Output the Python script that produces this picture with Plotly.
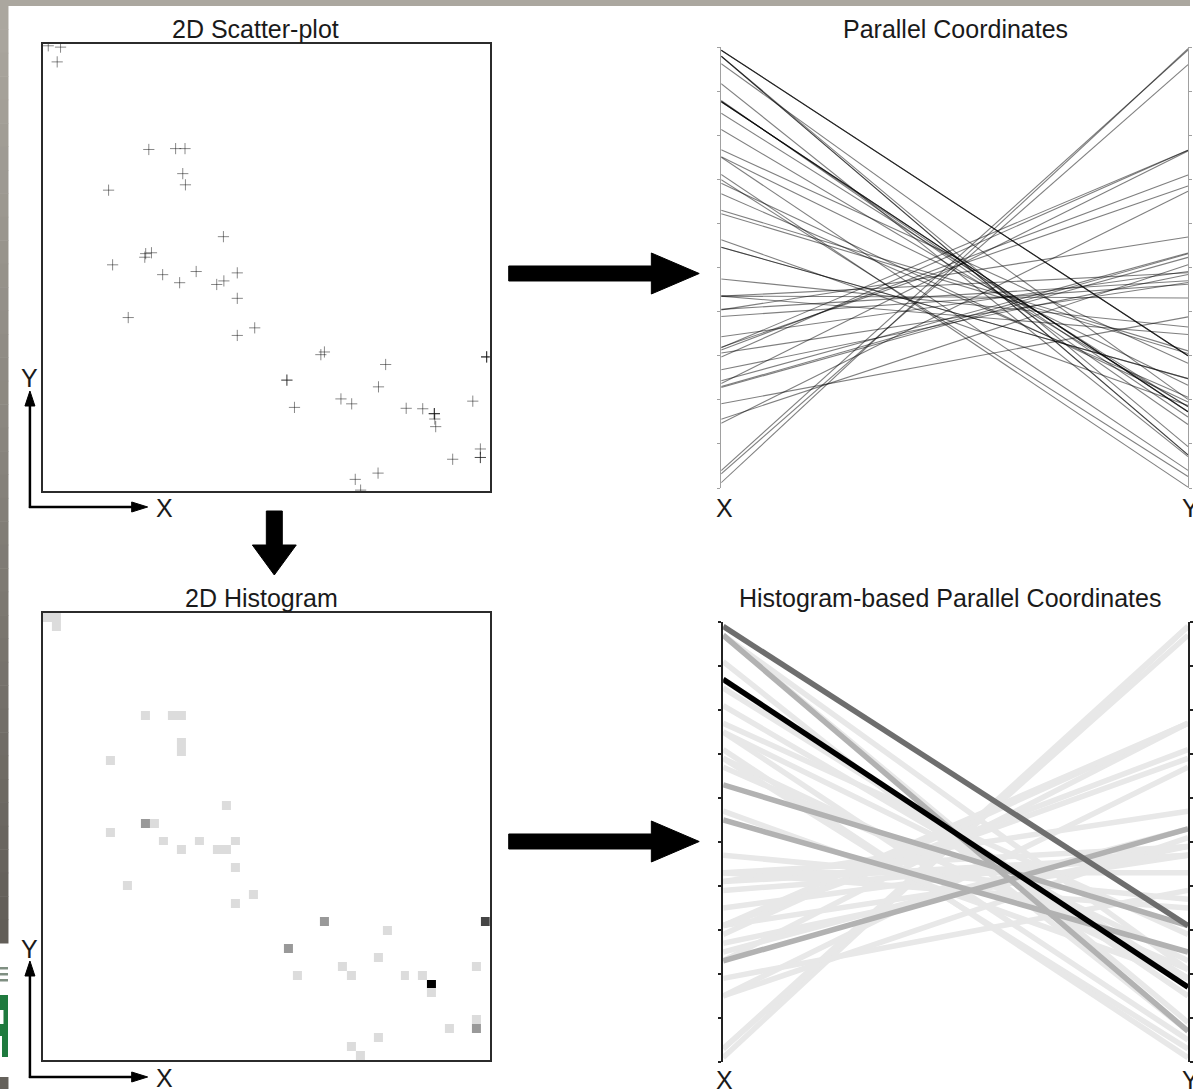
import numpy as np
import plotly.graph_objects as go

W, H = 1193, 1089

# ---------------- data (0-100 units) -------------
# overlapping points are listed once per occurrence
x_vals = [3.95, 3.2, 1.2, 23.7, 29.7, 31.8, 31.3, 31.9, 14.7, 40.4,
          23.0, 24.3, 22.8, 15.6, 26.8, 30.6, 34.3, 40.5, 38.9, 43.5,
          43.5, 19.1, 47.4, 43.5, 62.2, 63.0, 99.3, 99.3, 99.3, 54.6,
          54.6, 76.7, 75.1, 56.3, 66.7, 69.1, 81.3, 85.0, 87.6, 87.6,
          87.6, 87.7, 87.9, 96.2, 97.9, 97.9, 97.9, 91.7, 75.0, 69.9,
          71.1]
y_vals = [99.3, 96.0, 99.6, 76.4, 76.6, 76.6, 71.0, 68.5, 67.3, 56.9,
          53.1, 53.3, 52.3, 50.6, 48.4, 46.6, 49.1, 47.0, 46.2, 48.8,
          43.1, 38.8, 36.5, 34.8, 30.5, 31.1, 30.0, 30.0, 30.0, 24.8,
          24.8, 28.3, 23.3, 18.7, 20.6, 19.5, 18.5, 18.4, 17.3, 17.3,
          17.3, 16.1, 14.4, 20.1, 9.4, 7.5, 7.5, 7.1, 4.0, 2.6,
          0.2]
axis_names = ["X", "Y"]
panel_titles = ["2D Scatter-plot", "Parallel Coordinates",
                "2D Histogram", "Histogram-based Parallel Coordinates"]
n_bins = 50
value_range = [0, 100]
pc_ticks = [i / 10 for i in range(11)]

# ---------------- helpers ----------------
def fx(x):
    return x / W


def fy(y):
    return 1 - y / H


def poly(points):
    s = "M " + " L ".join(f"{fx(x):.5f},{fy(y):.5f}" for x, y in points) + " Z"
    return s


FONT = "Liberation Sans, Arial, sans-serif"
fig = go.Figure()

# ---------------- 2D scatter plot ----------------
fig.add_trace(go.Scatter(
    x=x_vals, y=y_vals, mode="markers", xaxis="x", yaxis="y",
    marker=dict(symbol="cross-thin", size=8,
                line=dict(width=1, color="rgba(20,20,20,0.5)")),
    hoverinfo="skip", showlegend=False))

# ---------------- 2D histogram ----------------
bin_size = (value_range[1] - value_range[0]) / n_bins
fig.add_trace(go.Histogram2d(
    x=x_vals, y=y_vals, xaxis="x2", yaxis="y2",
    autobinx=False, autobiny=False,
    xbins=dict(start=value_range[0], end=value_range[1], size=bin_size),
    ybins=dict(start=value_range[0], end=value_range[1], size=bin_size),
    zmin=0, zmax=4, showscale=False, hoverinfo="skip",
    colorscale=[[0, "#ffffff"], [0.25, "#dcdcdc"], [0.5, "#999999"],
                [0.75, "#454545"], [1.0, "#000000"]]))

# ---------------- parallel coordinates (raw) ----------------
span = value_range[1] - value_range[0]
for xv, yv in zip(x_vals, y_vals):
    fig.add_trace(go.Scatter(
        x=[0, 1], y=[(xv - value_range[0]) / span, (yv - value_range[0]) / span],
        mode="lines", xaxis="x3", yaxis="y3",
        line=dict(color="rgba(0,0,0,0.5)", width=1.1),
        hoverinfo="skip", showlegend=False))

# ---------------- histogram-based parallel coordinates ----------------
counts, _, _ = np.histogram2d(x_vals, y_vals, bins=n_bins,
                              range=[value_range, value_range])
centers = (np.arange(n_bins) + 0.5) / n_bins
count_colors = {1: "#e8e8e8", 2: "#b2b2b2", 3: "#6e6e6e", 4: "#000000"}
for c in sorted(set(int(v) for v in counts.flatten() if v > 0)):
    ii, jj = np.where(counts == c)
    for i, j in zip(ii, jj):
        fig.add_trace(go.Scatter(
            x=[0, 1], y=[centers[i], centers[j]], mode="lines",
            xaxis="x4", yaxis="y4",
            line=dict(color=count_colors.get(c, "#000000"), width=5.5),
            hoverinfo="skip", showlegend=False))

# ---------------- axes ----------------
frame = dict(showline=True, mirror=True, linecolor="#2b2b2b", linewidth=2,
             showgrid=False, zeroline=False, showticklabels=False, ticks="",
             range=value_range, fixedrange=True)
fig.update_layout(
    xaxis=dict(domain=[fx(43), fx(491)], anchor="y", **frame),
    yaxis=dict(domain=[fy(491), fy(44)], anchor="x", **frame),
    xaxis2=dict(domain=[fx(43), fx(491)], anchor="y2", **frame),
    yaxis2=dict(domain=[fy(1060), fy(613)], anchor="x2", **frame),
    xaxis3=dict(domain=[fx(723), fx(1191)], anchor="y3", range=[0, 1],
                visible=False, fixedrange=True),
    yaxis3=dict(domain=[fy(488), fy(47)], anchor="x3", range=[0, 1],
                showline=True, mirror="ticks", linecolor="#a0a0a0", linewidth=1,
                ticks="outside", tickvals=pc_ticks, ticklen=3, tickcolor="#a0a0a0",
                showgrid=False, zeroline=False, showticklabels=False,
                fixedrange=True),
    xaxis4=dict(domain=[fx(725), fx(1191)], anchor="y4", range=[0, 1],
                visible=False, fixedrange=True),
    yaxis4=dict(domain=[fy(1062), fy(622)], anchor="x4", range=[0, 1],
                showline=True, mirror="ticks", linecolor="#222222", linewidth=2,
                ticks="outside", tickvals=pc_ticks, ticklen=3, tickwidth=2,
                tickcolor="#222222", showgrid=False, zeroline=False,
                showticklabels=False, fixedrange=True),
)

# ---------------- decorations: background, arrows ----------------
shapes = []
# top band
shapes.append(dict(type="rect", xref="paper", yref="paper", x0=0, x1=1,
                   y0=fy(6), y1=1, fillcolor="#aba79f", line=dict(width=0),
                   layer="below"))
# left gradient strip
N = 40
c0 = np.array([171, 167, 159])
c1 = np.array([98, 94, 88])
for k in range(N):
    ya = 6 + k * (937 / N)
    yb = 6 + (k + 1) * (937 / N) + 0.5
    col = c0 + (c1 - c0) * k / (N - 1)
    shapes.append(dict(type="rect", xref="paper", yref="paper", x0=0, x1=fx(8.5),
                       y0=fy(yb), y1=fy(ya),
                       fillcolor=f"rgb({int(col[0])},{int(col[1])},{int(col[2])})",
                       line=dict(width=0), layer="below"))
shapes.append(dict(type="rect", xref="paper", yref="paper", x0=0, x1=fx(8.5),
                   y0=0, y1=fy(1077), fillcolor="#65615b", line=dict(width=0),
                   layer="below"))
# logo fragment
for ya, yb in [(967, 969.5), (973, 975.5), (979, 981.5)]:
    shapes.append(dict(type="rect", xref="paper", yref="paper", x0=0, x1=fx(8),
                       y0=fy(yb), y1=fy(ya), fillcolor="#7f8f82",
                       line=dict(width=0)))
for xa, ya, yb in [(0, 995, 1010), (3.5, 1010, 1024), (0, 1024, 1036), (2, 1036, 1057)]:
    shapes.append(dict(type="rect", xref="paper", yref="paper", x0=fx(xa), x1=fx(8),
                       y0=fy(yb), y1=fy(ya), fillcolor="#1f7a3e",
                       line=dict(width=0)))

arrow_style = dict(type="path", xref="paper", yref="paper", fillcolor="#000000",
                   line=dict(color="#000000", width=1))
# big right arrows
for off in (0, 568):
    shapes.append(dict(path=poly([(510, 266 + off), (653, 266 + off), (653, 253 + off),
                                  (701, 273.5 + off), (653, 294 + off),
                                  (653, 281 + off), (510, 281 + off)]), **arrow_style))
# big down arrow
shapes.append(dict(path=poly([(267, 511), (283, 511), (283, 545), (297, 545),
                              (275, 575), (253, 545), (267, 545)]), **arrow_style))
# small axis indicators
for base in (507, 1077):
    shapes.append(dict(type="line", xref="paper", yref="paper",
                       x0=fx(30), x1=fx(30), y0=fy(base + 1), y1=fy(base - 110),
                       line=dict(color="#000000", width=2.5)))
    shapes.append(dict(type="line", xref="paper", yref="paper",
                       x0=fx(29), x1=fx(134), y0=fy(base), y1=fy(base),
                       line=dict(color="#000000", width=2.5)))
    shapes.append(dict(path=poly([(25, base - 101), (35, base - 101), (30, base - 116)]),
                       **arrow_style))
    shapes.append(dict(path=poly([(132, base - 5), (132, base + 5), (148, base)]),
                       **arrow_style))

# ---------------- text ----------------
ann = []


def text(t, x, y, size=25, color="#1a1a1a"):
    ann.append(dict(text=t, x=fx(x), y=fy(y), xref="paper", yref="paper",
                    xanchor="center", yanchor="middle", showarrow=False,
                    font=dict(family=FONT, size=size, color=color)))


text(panel_titles[0], 256, 29)
text(panel_titles[1], 958, 29)
text(panel_titles[2], 262, 598)
text(panel_titles[3], 952, 598)
text(axis_names[0], 726, 508)
text(axis_names[1], 1193, 508)
text(axis_names[0], 726, 1080)
text(axis_names[1], 1193, 1080)
text(axis_names[1], 30, 378)
text(axis_names[0], 165, 508)
text(axis_names[1], 30, 949)
text(axis_names[0], 165, 1078)

fig.update_layout(
    width=W, height=H, margin=dict(l=0, r=0, t=0, b=0),
    paper_bgcolor="#ffffff", plot_bgcolor="#ffffff",
    showlegend=False, shapes=shapes, annotations=ann,
)

fig.write_html("out.html",
               config={"displayModeBar": False, "staticPlot": True},
               post_script="document.body.style.margin='0px';"
                           "document.body.style.overflow='hidden';")
